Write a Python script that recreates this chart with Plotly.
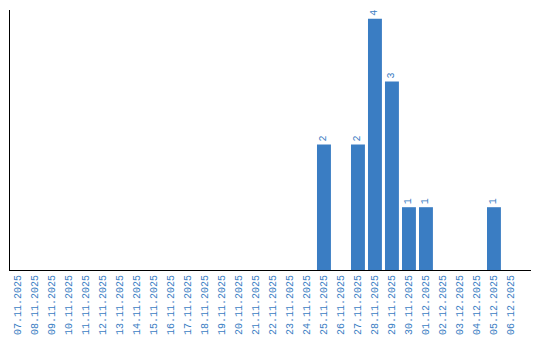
import plotly.graph_objects as go

dates = ["07.11.2025","08.11.2025","09.11.2025","10.11.2025","11.11.2025","12.11.2025",
         "13.11.2025","14.11.2025","15.11.2025","16.11.2025","17.11.2025","18.11.2025",
         "19.11.2025","20.11.2025","21.11.2025","22.11.2025","23.11.2025","24.11.2025",
         "25.11.2025","26.11.2025","27.11.2025","28.11.2025","29.11.2025","30.11.2025",
         "01.12.2025","02.12.2025","03.12.2025","04.12.2025","05.12.2025","06.12.2025"]
counts = [0,0,0,0,0,0,0,0,0,0,0,0,0,0,0,0,0,0,2,0,2,4,3,1,1,0,0,0,1,0]
labels = [str(c) if c else "" for c in counts]

blue = "#3a7dc3"
mono = "Liberation Mono"
fig = go.Figure(go.Bar(
    x=dates, y=counts, text=labels, textposition="outside", textangle=-90,
    marker=dict(color=blue, line=dict(width=0)),
    textfont=dict(family=mono, size=10, color=blue),
    cliponaxis=False,
))
fig.update_layout(
    width=540, height=340, margin=dict(l=10, r=9, t=10, b=70, autoexpand=False),
    plot_bgcolor="white", paper_bgcolor="white", bargap=0.18, showlegend=False,
    font=dict(family=mono, size=10, color=blue),
)
fig.update_xaxes(type="category", range=[-0.47, 30.18], tickangle=-90, showline=True,
                 linecolor="black", linewidth=1, showgrid=False, ticks="", automargin=False,
                 tickfont=dict(family=mono, size=10, color=blue))
fig.update_yaxes(range=[0, 4.14], showline=True, linecolor="black", linewidth=1, showgrid=False,
                 zeroline=False, showticklabels=False, ticks="", automargin=False)
fig.write_html("out.html")
